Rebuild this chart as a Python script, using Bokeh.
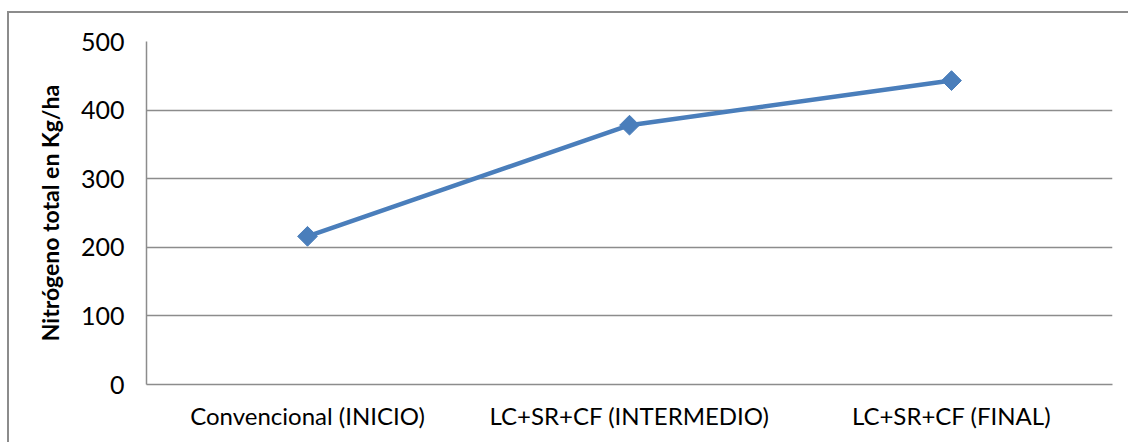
from bokeh.plotting import figure
from bokeh.models import FactorRange, Range1d, FixedTicker
from bokeh.embed import file_html
from bokeh.resources import INLINE
import math

categories = ["Convencional (INICIO)", "LC+SR+CF (INTERMEDIO)", "LC+SR+CF (FINAL)"]
values = [216, 378, 443]
y_ticks = [0, 100, 200, 300, 400, 500]
y_title = "Nitrógeno total en Kg/ha"

FONT = "Lato"
GRID = "#8c8c8c"
BLUE = "#4a7ebb"

p = figure(width=1121, height=431, x_range=FactorRange(*categories),
           y_range=Range1d(0, 500), output_backend="svg", toolbar_location=None,
           min_border_left=137, min_border_right=18, min_border_top=28, min_border_bottom=60)

p.styles = {"border-top": "2px solid #8c8c8c", "border-left": "2px solid #8c8c8c",
            "margin-top": "11px", "margin-left": "7px"}

p.outline_line_color = None
p.background_fill_color = "white"
p.border_fill_color = "white"

p.line(categories, values, line_color=BLUE, line_width=4.5)
p.scatter(categories, values, marker="square", size=14, angle=math.pi / 4,
          fill_color=BLUE, line_color=BLUE)

p.xgrid.grid_line_color = None
p.ygrid.grid_line_color = GRID
p.ygrid.grid_line_width = 1.5
p.ygrid.ticker = FixedTicker(ticks=y_ticks)

p.yaxis.ticker = FixedTicker(ticks=y_ticks)
p.yaxis.axis_line_color = GRID
p.yaxis.axis_line_width = 1.5
p.yaxis.major_tick_line_color = None
p.yaxis.minor_tick_line_color = None
p.yaxis.major_label_text_font = FONT
p.yaxis.major_label_text_font_size = "25px"
p.yaxis.major_label_text_color = "black"
p.yaxis.major_label_standoff = 16
p.yaxis.axis_label = y_title
p.yaxis.axis_label_text_font = FONT
p.yaxis.axis_label_text_font_style = "bold"
p.yaxis.axis_label_text_font_size = "23px"
p.yaxis.axis_label_text_color = "black"
p.yaxis.axis_label_standoff = 14

p.xaxis.axis_line_color = GRID
p.xaxis.axis_line_width = 1.5
p.xaxis.major_tick_line_color = None
p.xaxis.minor_tick_line_color = None
p.xaxis.major_label_text_font = FONT
p.xaxis.major_label_text_font_size = "24px"
p.xaxis.major_label_text_color = "black"
p.xaxis.major_label_standoff = 10

open("out.html", "w").write(file_html(p, INLINE))
